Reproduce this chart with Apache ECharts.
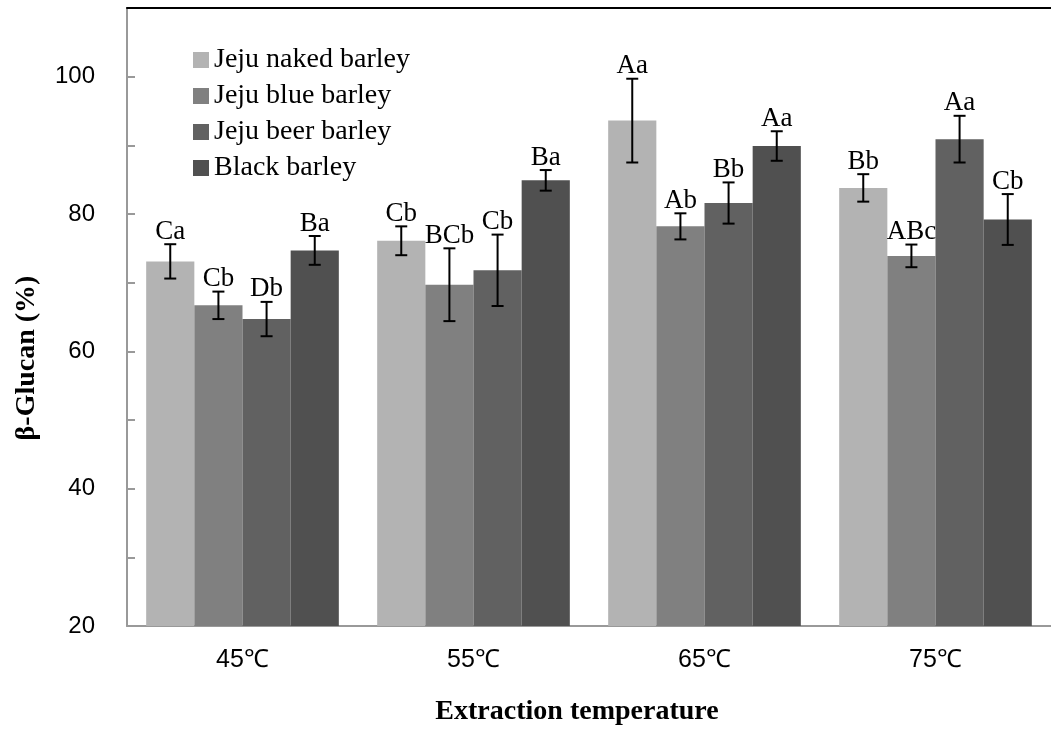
<!DOCTYPE html>
<html><head><meta charset="utf-8">
<script src="https://cdn.jsdelivr.net/npm/echarts@6/dist/echarts.min.js"></script>
<style>html,body{margin:0;padding:0;background:#fff}#c{width:1051px;height:731px}</style>
</head><body><div id="c"></div>
<script>
const categories = ['45℃', '55℃', '65℃', '75℃'];
const seriesNames = ['Jeju naked barley', 'Jeju blue barley', 'Jeju beer barley', 'Black barley'];
const nakedValues = [73.1, 76.1, 93.6, 83.8];
const nakedErrors = [2.5, 2.1, 6.1, 2.0];
const nakedLabels = ['Ca', 'Cb', 'Aa', 'Bb'];
const blueValues = [66.7, 69.7, 78.2, 73.9];
const blueErrors = [2.0, 5.3, 1.9, 1.65];
const blueLabels = ['Cb', 'BCb', 'Ab', 'ABc'];
const beerValues = [64.7, 71.8, 81.6, 90.9];
const beerErrors = [2.5, 5.2, 3.0, 3.4];
const beerLabels = ['Db', 'Cb', 'Bb', 'Aa'];
const blackValues = [74.7, 84.9, 89.9, 79.2];
const blackErrors = [2.1, 1.5, 2.15, 3.7];
const blackLabels = ['Ba', 'Ba', 'Aa', 'Cb'];
const yTickLabels = [20, 40, 60, 80, 100];

const allValues = [nakedValues, blueValues, beerValues, blackValues];
const allErrors = [nakedErrors, blueErrors, beerErrors, blackErrors];
const allLabels = [nakedLabels, blueLabels, beerLabels, blackLabels];
const colors = ['#b3b3b3', '#808080', '#616161', '#505050'];
const CAT_GAP = 0.166;
const SERIF = '"Liberation Serif", "Times New Roman", serif';
const SANS = '"Liberation Sans", Arial, sans-serif';

const chart = echarts.init(document.getElementById('c'), null, {renderer: 'canvas'});

const series = [];
allValues.forEach((vals, i) => {
  series.push({
    name: seriesNames[i], type: 'bar', data: vals,
    barGap: 0, barCategoryGap: (CAT_GAP * 100) + '%',
    itemStyle: {color: colors[i]},
    emphasis: {disabled: true}
  });
});
allValues.forEach((vals, i) => {
  series.push({
    type: 'custom', xAxisIndex: 0, yAxisIndex: 0, silent: true, z: 5,
    data: vals.map((v, k) => [k, v, allErrors[i][k], allLabels[i][k]]),
    renderItem: function (params, api) {
      const k = api.value(0), v = api.value(1), e = api.value(2);
      const label = allLabels[i][k];
      const catW = api.size([1, 0])[0];
      const groupW = catW * (1 - CAT_GAP);
      const bw = groupW / 4;
      const c = api.coord([k, v]);
      const x = c[0] - groupW / 2 + bw * (i + 0.5);
      const yHi = api.coord([k, v + e])[1];
      const yLo = api.coord([k, v - e])[1];
      const cap = 6;
      const ls = {stroke: '#000', lineWidth: 2};
      return {
        type: 'group',
        children: [
          {type: 'line', shape: {x1: x, y1: yHi, x2: x, y2: yLo}, style: ls},
          {type: 'line', shape: {x1: x - cap, y1: yHi, x2: x + cap, y2: yHi}, style: ls},
          {type: 'line', shape: {x1: x - cap, y1: yLo, x2: x + cap, y2: yLo}, style: ls},
          {type: 'text', style: {text: label, x: x, y: yHi + 1, textAlign: 'center', textVerticalAlign: 'bottom',
            font: '27px ' + SERIF, fill: '#000'}}
        ]
      };
    }
  });
});

chart.setOption({
  animation: false,
  backgroundColor: '#fff',
  color: colors,
  grid: {left: 127, right: -5, top: 8, bottom: 104, containLabel: false},
  legend: {
    data: seriesNames, orient: 'vertical', left: 188, top: 41,
    itemWidth: 16, itemHeight: 16, itemGap: 8, icon: 'rect',
    textStyle: {fontFamily: SERIF, fontSize: 28, color: '#000', lineHeight: 28}
  },
  xAxis: [{
    type: 'category', data: categories, position: 'bottom',
    axisLine: {lineStyle: {color: '#999', width: 2}},
    axisTick: {inside: true, length: 6, lineStyle: {color: '#999', width: 2}},
    axisLabel: {fontFamily: SANS, fontSize: 25, color: '#000', margin: 22},
    name: 'Extraction temperature', nameLocation: 'middle', nameGap: 72,
    nameTextStyle: {fontFamily: SERIF, fontWeight: 'bold', fontSize: 28, color: '#000', padding: [0, 24, 0, 0]}
  }, {
    type: 'category', data: categories, position: 'top', z: 20,
    axisLine: {lineStyle: {color: '#000', width: 2}},
    axisTick: {show: false}, axisLabel: {show: false}
  }],
  yAxis: {
    type: 'value', min: 20, max: 110, interval: 10,
    axisLine: {show: true, lineStyle: {color: '#999', width: 2}},
    axisTick: {show: true, inside: true, length: 8, lineStyle: {color: '#999', width: 2}},
    splitLine: {show: false},
    axisLabel: {fontFamily: SANS, fontSize: 24, color: '#000', margin: 32,
      formatter: v => (yTickLabels.indexOf(v) >= 0 ? String(v) : '')},
    name: 'β-Glucan (%)', nameLocation: 'middle', nameRotate: 90, nameGap: 86,
    nameTextStyle: {fontFamily: SERIF, fontWeight: 'bold', fontSize: 28, color: '#000', padding: [0, 82, 0, 0]}
  },
  series: series
});
</script></body></html>
